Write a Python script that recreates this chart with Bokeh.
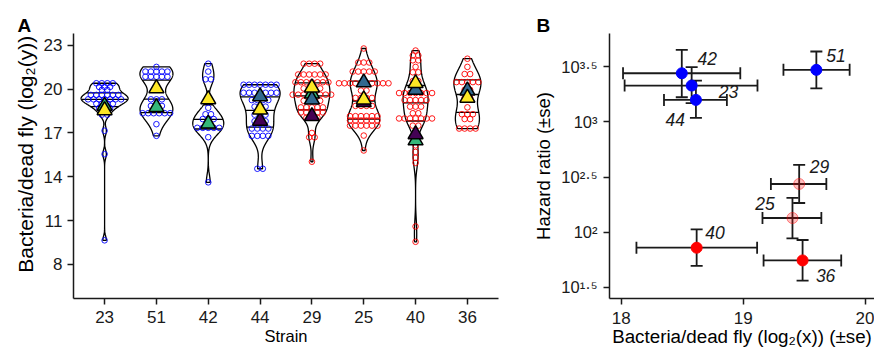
import numpy as np
from bokeh.plotting import figure
from bokeh.models import Range1d, FixedTicker, ColumnDataSource, Whisker, TeeHead, Title
from bokeh.layouts import row
from bokeh.embed import file_html
from bokeh.resources import INLINE
from bokeh.core.properties import value

FONT = "Liberation Sans"

# ---------------- Panel A data ----------------
strains = ["23", "51", "42", "44", "29", "25", "40", "36"]
strain_group = ["blue", "blue", "blue", "blue", "red", "red", "red", "red"]

# dot rows: (log2 bacteria/dead fly, number of dots in the row)
dots_23 = [(20.40, 4), (20.15, 3), (19.95, 2), (19.60, 6), (19.30, 7), (19.00, 4), (18.70, 3),
           (18.25, 2), (17.15, 1), (15.55, 1), (9.65, 1)]
dots_51 = [(21.52, 1), (21.20, 5), (20.85, 5), (19.30, 3), (18.85, 3), (18.35, 6), (17.60, 1), (16.80, 1)]
dots_42 = [(21.74, 1), (21.20, 1), (20.67, 2), (18.72, 1), (18.28, 2), (17.95, 3), (17.35, 5),
           (16.71, 1), (13.62, 1)]
dots_44 = [(20.30, 7), (19.75, 7), (19.25, 4), (18.80, 3), (18.25, 3), (17.80, 3), (17.30, 4),
           (16.80, 4), (14.55, 2)]
dots_29 = [(21.74, 4), (21.00, 6), (20.47, 7), (20.05, 4), (19.62, 8), (19.20, 4), (18.75, 5),
           (18.40, 5), (18.05, 3), (17.00, 1), (16.70, 2), (15.03, 1)]
dots_25 = [(22.78, 1), (21.82, 3), (21.20, 5), (20.40, 10), (19.90, 2), (19.40, 4), (18.85, 4),
           (18.15, 6), (17.85, 6), (17.50, 6), (16.82, 1), (15.80, 1)]
dots_40 = [(22.64, 1), (22.30, 2), (21.97, 2), (21.52, 1), (21.15, 2), (20.55, 2), (20.20, 2),
           (19.73, 7), (19.25, 5), (18.80, 3), (18.35, 2), (17.99, 7), (17.50, 2), (16.15, 1),
           (15.70, 1), (15.30, 1), (14.95, 1), (10.60, 1), (9.55, 1)]
dots_36 = [(22.08, 1), (21.52, 1), (21.03, 2), (20.48, 5), (19.95, 2), (19.40, 2), (18.75, 1),
           (18.28, 3), (17.95, 2), (17.30, 4)]
dot_rows = [dots_23, dots_51, dots_42, dots_44, dots_29, dots_25, dots_40, dots_36]

# widest point of each violin, in pixels (as drawn in the reference)
violin_max_px = [47, 33, 31, 40, 36, 32, 25, 27]

# replicate means (triangles): strain, replicate (1..4), value
tri_strain = ["23", "23", "51", "51", "42", "42", "44", "44", "44",
              "29", "29", "29", "29", "25", "25", "25", "40", "40", "40", "40", "36", "36"]
tri_rep = [3, 4, 4, 3, 4, 3, 2, 4, 1,
           4, 3, 2, 1, 2, 1, 4, 4, 2, 1, 3, 2, 4]
tri_val = [18.85, 18.55, 20.05, 18.76, 19.30, 17.63, 19.50, 18.60, 17.83,
           20.10, 19.68, 19.28, 18.14, 20.45, 19.10, 19.28, 20.40, 19.95, 16.90, 16.48, 19.90, 19.40]
rep_colors = {1: "#440154", 2: "#31688E", 3: "#35B779", 4: "#FDE725"}
rep_draw_order = [3, 1, 2, 4]

y_ticks_A = [8, 11, 14, 17, 20, 23]

# ---------------- Panel B data ----------------
hr_strain = ["42", "23", "44", "51", "29", "25", "40", "36"]
bact_mean = [18.496, 18.577, 18.612, 19.600, 19.459, 19.404, 18.618, 19.487]
bact_lo = [18.014, 18.027, 18.350, 19.330, 19.227, 19.158, 18.124, 19.167]
bact_hi = [18.976, 19.117, 18.866, 19.873, 19.682, 19.641, 19.114, 19.804]
hr_log10 = [3.439, 3.328, 3.198, 3.470, 2.437, 2.129, 1.860, 1.745]
hr_log10_lo = [3.222, 3.168, 3.035, 3.303, 2.265, 1.945, 1.695, 1.562]
hr_log10_hi = [3.651, 3.494, 3.373, 3.636, 2.610, 2.311, 2.026, 1.930]
hr_kind = ["blue", "blue", "blue", "blue", "faded", "faded", "red", "red"]
y_ticks_B = [1.5, 2.0, 2.5, 3.0, 3.5]
y_tick_labels_B = ["10\u00b9\u00b7\u2075", "10\u00b2", "10\u00b2\u00b7\u2075", "10\u00b3", "10\u00b3\u00b7\u2075"]
x_ticks_B = [18, 19, 20]

# label placement (pixels) for panel B
lab_dx = [15.7, 27.0, -11.0, 10.0, 10.6, -17.7, 8.7, 13.3]
lab_dy = [-14.4, 6.0, 19.4, -14.3, -17.5, -14.8, -15.3, 15.3]
lab_align = ["left", "left", "right", "left", "left", "right", "left", "left"]

# ---------------- helpers ----------------
def style_axis(ax, size):
    ax.axis_line_width = 1.5
    ax.axis_line_color = "#1a1a1a"
    ax.major_tick_line_width = 1.5
    ax.major_tick_line_color = "#1a1a1a"
    ax.major_tick_out = 6
    ax.major_tick_in = 0
    ax.minor_tick_line_color = None
    ax.major_label_text_font = FONT
    ax.major_label_text_font_size = size
    ax.major_label_text_color = "#1a1a1a"
    ax.axis_label_text_font = FONT
    ax.axis_label_text_font_style = "normal"
    ax.axis_label_text_color = "black"


def expand(rows):
    out = []
    for v, k in rows:
        out += [v] * k
    return np.array(out, float)


def density(vals):
    v = np.asarray(vals, float)
    n = len(v)
    sd = v.std(ddof=1)
    q75, q25 = np.percentile(v, [75, 25])
    lo = min(sd, (q75 - q25) / 1.34)
    bw = 0.9 * lo * n ** -0.2
    ys = np.linspace(v.min(), v.max(), 512)
    d = np.exp(-0.5 * ((ys[:, None] - v[None, :]) / bw) ** 2).sum(1) / (n * bw * np.sqrt(2 * np.pi))
    return ys, d


def panel_title(p, text, offset):
    p.add_layout(Title(text=text, align="left", offset=offset, standoff=-5, text_font=FONT,
                       text_font_size="19px", text_font_style="bold", text_color="black"), "above")


# ---------------- Panel A ----------------
A_W, A_LEFT, A_RIGHT = 530, 73, 32
xA = np.arange(1, len(strains) + 1)
pA = figure(width=A_W, height=350, x_range=Range1d(0.4, 8.6), y_range=Range1d(5.669, 23.806),
            output_backend="svg", toolbar_location=None,
            min_border_left=A_LEFT, min_border_right=A_RIGHT, min_border_top=33, min_border_bottom=47)
pA.xgrid.visible = False
pA.ygrid.visible = False
pA.outline_line_color = None

px_per_unit = (A_W - A_LEFT - A_RIGHT) / 8.2

v_xs, v_ys, q_xs, q_ys = [], [], [], []
for c, rows, wpx in zip(xA, dot_rows, violin_max_px):
    ys, d = density(expand(rows))
    hw = (wpx / 2 / px_per_unit) * d / d.max()
    v_xs.append(np.concatenate([c - hw, (c + hw)[::-1]]))
    v_ys.append(np.concatenate([ys, ys[::-1]]))
    cdf = np.cumsum(d) / d.sum()
    for q in (0.25, 0.5, 0.75):
        yq = np.interp(q, cdf, ys)
        wq = np.interp(yq, ys, hw)
        q_xs.append([c - wq, c + wq])
        q_ys.append([yq, yq])

pA.patches(v_xs, v_ys, fill_color="white", fill_alpha=0.0, line_color="black", line_width=1.3)
pA.multi_line(q_xs, q_ys, line_color="black", line_width=1.3)

dx = 5.5 / px_per_unit
for c, rows, g in zip(xA, dot_rows, strain_group):
    xs, ys = [], []
    for v, k in rows:
        for j in range(k):
            xs.append(c + (j - (k - 1) / 2) * dx)
            ys.append(v)
    pA.scatter(xs, ys, marker="circle", size=5.6, fill_color=None,
               line_color="#0000ff" if g == "blue" else "#ff0000", line_width=0.9)

pos = {s: i + 1 for i, s in enumerate(strains)}
for rep in rep_draw_order:
    tx = [pos[s] for s, r in zip(tri_strain, tri_rep) if r == rep]
    ty = [v for v, r in zip(tri_val, tri_rep) if r == rep]
    pA.scatter(tx, ty, marker="triangle", size=15, fill_color=rep_colors[rep],
               line_color="black", line_width=1.5)

pA.xaxis.ticker = FixedTicker(ticks=list(xA))
pA.xaxis.major_label_overrides = {int(i): s for i, s in zip(xA, strains)}
pA.yaxis.ticker = FixedTicker(ticks=y_ticks_A)
style_axis(pA.xaxis[0], "17px")
style_axis(pA.yaxis[0], "17px")
pA.xaxis.axis_label = "Strain"
pA.xaxis.axis_label_text_font_size = "16.5px"
pA.xaxis.major_label_text_line_height = 0.6
pA.xaxis.axis_label_text_line_height = 0.6
pA.xaxis.major_label_standoff = 6
pA.xaxis.axis_label_standoff = 1
pA.yaxis.axis_label = "\u00a0" * 4 + "Bacteria/dead fly (log\u2082(y))"
pA.yaxis.axis_label_text_font_size = "21px"
pA.yaxis.major_label_standoff = 5
pA.yaxis.axis_label_standoff = 4
panel_title(pA, "A", -56)

# ---------------- Panel B ----------------
B_W, B_LEFT = 344, 79
pB = figure(width=B_W, height=350, x_range=Range1d(17.903, 20.077), y_range=Range1d(1.4004, 3.799),
            output_backend="svg", toolbar_location=None,
            min_border_left=B_LEFT, min_border_right=0, min_border_top=33, min_border_bottom=52)
pB.xgrid.visible = False
pB.ygrid.visible = False
pB.outline_line_color = None

src = ColumnDataSource(dict(x=bact_mean, xlo=bact_lo, xhi=bact_hi, y=hr_log10,
                            ylo=hr_log10_lo, yhi=hr_log10_hi))


def tee():
    return TeeHead(size=12, line_width=1.8, line_color="#1a1a1a")


pB.add_layout(Whisker(source=src, base="y", lower="xlo", upper="xhi", dimension="width",
                      line_width=1.8, line_color="#1a1a1a", upper_head=tee(), lower_head=tee()))
pB.add_layout(Whisker(source=src, base="x", lower="ylo", upper="yhi", dimension="height",
                      line_width=1.8, line_color="#1a1a1a", upper_head=tee(), lower_head=tee()))

for kind, fc, fa, lc, la in [("blue", "#0000ff", 1.0, "#0000ff", 1.0),
                             ("red", "#ff0000", 1.0, "#ff0000", 1.0),
                             ("faded", "#ff0000", 0.25, "#ff0000", 0.45)]:
    idx = [i for i, k in enumerate(hr_kind) if k == kind]
    pB.scatter([bact_mean[i] for i in idx], [hr_log10[i] for i in idx], marker="circle", size=11,
               fill_color=fc, fill_alpha=fa, line_color=lc, line_alpha=la, line_width=1)

for al in ("left", "right"):
    idx = [i for i, a in enumerate(lab_align) if a == al]
    s = ColumnDataSource(dict(x=[bact_mean[i] for i in idx], y=[hr_log10[i] for i in idx],
                              t=[hr_strain[i] for i in idx], dx=[lab_dx[i] for i in idx],
                              dy=[lab_dy[i] for i in idx]))
    pB.text(x="x", y="y", text="t", x_offset="dx", y_offset="dy", source=s, text_align=al,
            text_baseline="middle", text_font=value(FONT), text_font_style="italic",
            text_font_size="17.5px", text_color="#1a1a1a")

pB.xaxis.ticker = FixedTicker(ticks=x_ticks_B)
pB.yaxis.ticker = FixedTicker(ticks=y_ticks_B)
style_axis(pB.xaxis[0], "17px")
style_axis(pB.yaxis[0], "16.5px")
pB.yaxis.major_label_overrides = {t: lab for t, lab in zip(y_ticks_B, y_tick_labels_B)}
pB.yaxis.major_label_standoff = 6
pB.xaxis.major_label_text_line_height = 0.6
pB.xaxis.axis_label_text_line_height = 0.6
pB.xaxis.major_label_standoff = 7
pB.xaxis.axis_label_standoff = -1
pB.xaxis.axis_label = "Bacteria/dead fly (log\u2082(x)) (\u00b1se)"
pB.xaxis.axis_label_text_font_size = "18.8px"
pB.yaxis.axis_label = "Hazard ratio (\u00b1se)"
pB.yaxis.axis_label_text_font_size = "18.5px"
pB.yaxis.axis_label_standoff = 4
panel_title(pB, "B", -73)

layout = row(pA, pB)
open("out.html", "w").write(file_html(layout, INLINE))
